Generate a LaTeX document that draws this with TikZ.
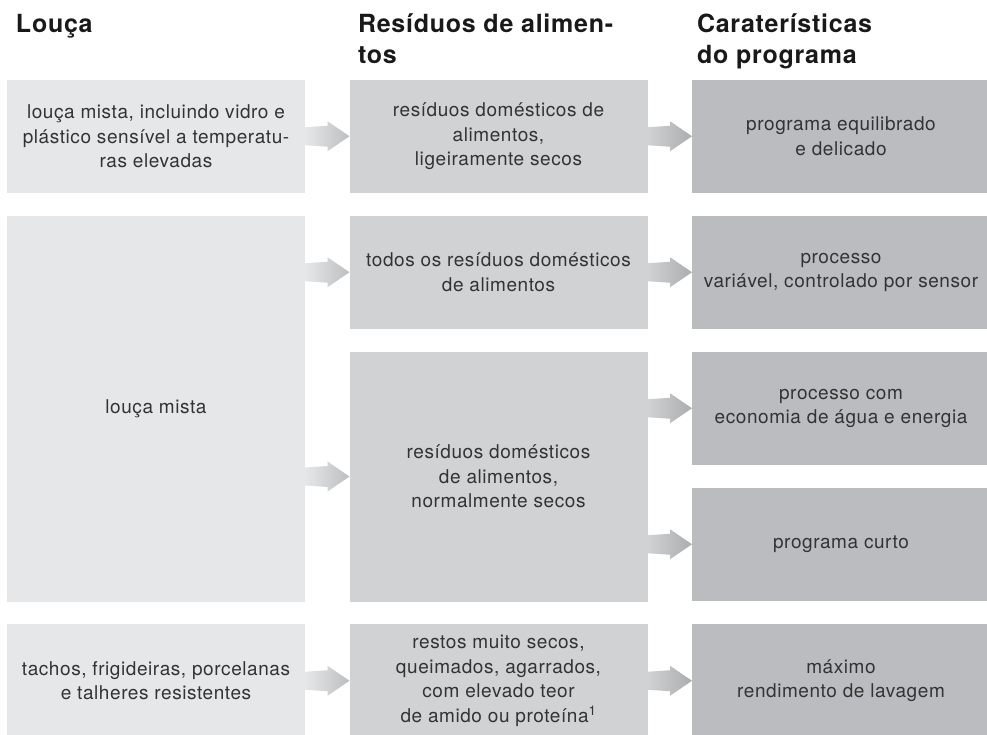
\documentclass[tikz,border=0pt]{standalone}
\usepackage{fontspec}
\setmainfont[LetterSpace=3]{TeX Gyre Heros}
\usetikzlibrary{positioning,calc}
\definecolor{dish}{HTML}{E6E7E8}
\definecolor{soil}{HTML}{D1D2D4}
\definecolor{prog}{HTML}{BBBCBF}
\definecolor{ink}{HTML}{333333}
\definecolor{arrA}{HTML}{BDBEC0}
\definecolor{arrB}{HTML}{ABACAE}

\begin{document}
\begin{tikzpicture}[x=1pt, y=-1pt, node distance=22.5pt and 44.5pt,
every node/.style={inner sep=0pt,outer sep=0pt},
box/.style={align=center,minimum width=298pt,minimum height=113.5pt,text=ink,font=\fontsize{19}{24.5}\selectfont},
dishbox/.style={box,fill=dish},
soilbox/.style={box,fill=soil},
progbox/.style={box,fill=prog},
head/.style={anchor=base west,align=left,text=black!90,font=\bfseries\fontsize{25}{31}\selectfont},
fat/.style={to path={($(\tikztostart)+(0,9pt)$) -- ($(\tikztotarget)+(-22pt,10.5pt)$) -- ($(\tikztotarget)+(-22pt,15pt)$) -- (\tikztotarget) -- ($(\tikztotarget)+(-22pt,-15pt)$) -- ($(\tikztotarget)+(-22pt,-10.5pt)$) -- ($(\tikztostart)+(0,-9pt)$) -- cycle}},
fatA/.style={fat,left color=dish,right color=arrA},
fatB/.style={fat,left color=soil,right color=arrB}]
\useasboundingbox (0,0) rectangle (987,734);
% column heads (base = last line)
\node[head] (hdish) at (16,32) {Louça};
\node[head] (hsoil) at (358,63) {Resíduos de alimen-\\tos};
\node[head] (hprog) at (697,63) {Caraterísticas\\do programa};
% first row
\node[dishbox,anchor=north west] (l1) at (7,79.5) {louça mista, incluindo vidro e\\plástico sensível a temperatu-\\ras elevadas};
\node[soilbox,right=of l1] (r1) {resíduos domésticos de\\alimentos,\\ligeiramente secos};
\node[progbox,right=of r1] (c1) {programa equilibrado\\e delicado};
% second row
\node[dishbox,minimum height=386pt,below=of l1] (l2) {louça mista};
\node[soilbox,right=of l2.north east,anchor=north west] (r2a) {todos os resíduos domésticos\\de alimentos};
\node[soilbox,minimum height=250pt,below=of r2a] (r2b) {resíduos domésticos\\de alimentos,\\normalmente secos};
\node[progbox,right=of r2a] (c2a) {processo\\variável, controlado por sensor};
\node[progbox,below=of c2a] (c2b) {processo com\\economia de água e energia};
\node[progbox,below=of c2b] (c2c) {programa curto};
% third row
\node[dishbox,below=of l2] (l3) {tachos, frigideiras, porcelanas\\e talheres resistentes};
\node[soilbox,right=of l3] (r3) {restos muito secos,\\queimados, agarrados,\\com elevado teor\\de amido ou proteína\textsuperscript{1}};
\node[progbox,right=of r3] (c3) {máximo\\rendimento de lavagem};
% arrows
\path[fatA] (l1.east) to (r1.west);
\path[fatB] (r1.east) to (c1.west);
\path[fatA] (l2.east |- r2a.west) to (r2a.west);
\path[fatA] (l2.east |- r2b.west) to (r2b.west);
\path[fatB] (r2a.east) to (c2a.west);
\path[fatB] (r2b.east |- c2b.west) to (c2b.west);
\path[fatB] (r2b.east |- c2c.west) to (c2c.west);
\path[fatA] (l3.east) to (r3.west);
\path[fatB] (r3.east) to (c3.west);
\end{tikzpicture}
\end{document}
